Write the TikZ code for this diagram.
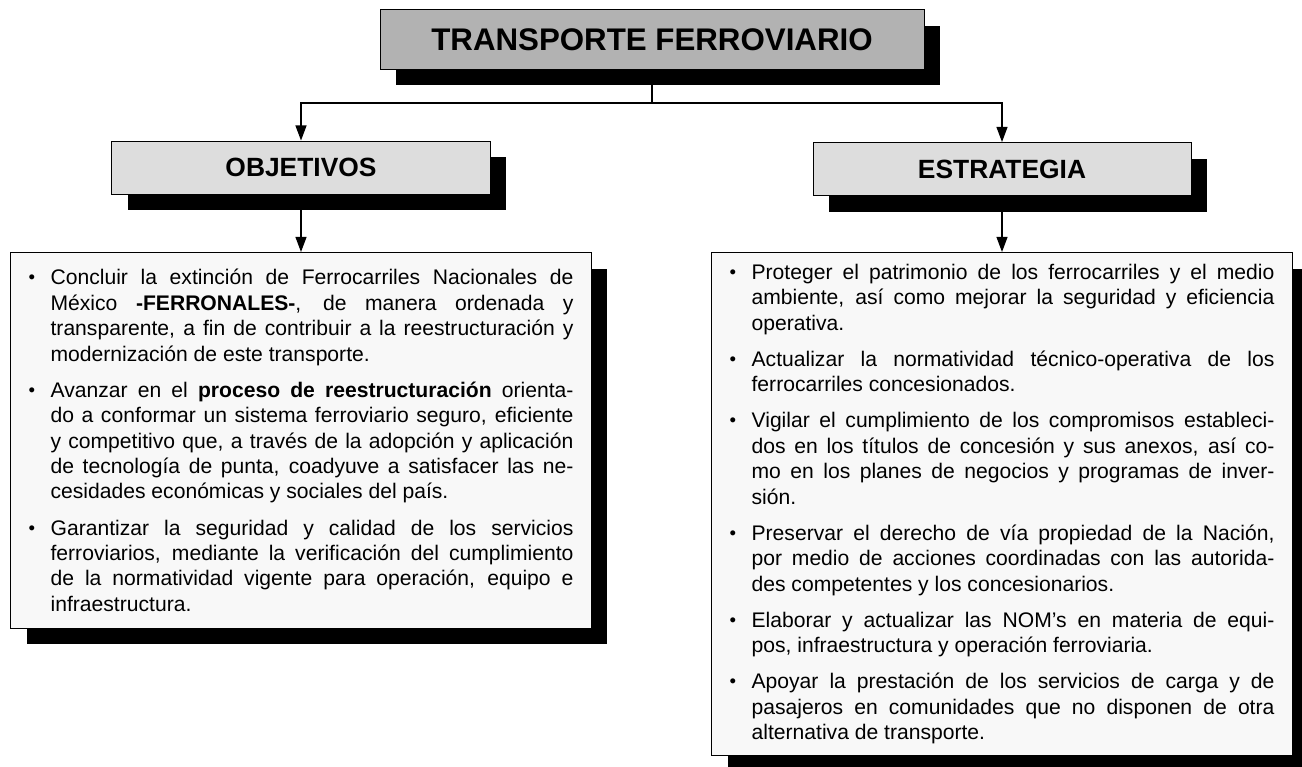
\documentclass[tikz,border=0pt]{standalone}
\usepackage{fontspec}
\setmainfont{Liberation Sans}
\usetikzlibrary{arrows.meta, shadows, positioning}

\definecolor{grisTitulo}{RGB}{178,178,178}
\definecolor{grisEncabezado}{RGB}{221,221,221}
\definecolor{grisCaja}{RGB}{248,248,248}

\newcommand{\marca}{\makebox[11.3pt][l]{\raisebox{0.08ex}{\fontsize{9.5}{9.5}\selectfont\textbullet}}}
\newcommand{\primero}{\hangindent=11.3pt\hangafter=1\marca}
\newcommand{\punto}{\par\noindent\hangindent=11.3pt\hangafter=1\marca}
\newcommand{\ajustes}{\parskip=5.5pt\tolerance=10000\hyphenpenalty=10000\exhyphenpenalty=10000}

\tikzset{
  sombra/.style={draw=black, line width=0.5pt,
    drop shadow={shadow xshift=8.2pt, shadow yshift=-8.2pt, fill=black, opacity=1}},
  titulo/.style={sombra, fill=grisTitulo, minimum width=278.3pt, minimum height=30.2pt,
    font=\fontsize{16}{19}\selectfont\bfseries},
  encabezado/.style={sombra, fill=grisEncabezado, minimum width=193.4pt, minimum height=27.1pt,
    font=\fontsize{13.5}{16}\selectfont\bfseries},
  lista/.style={sombra, fill=grisCaja, anchor=north, text width=278.8pt,
    inner xsep=9.2pt, inner ysep=5.9pt, align=justify, font=\fontsize{10.8}{13}\selectfont},
  flecha/.style={-{Triangle[length=7.7pt, width=5.6pt]}, line width=0.65pt},
}

\begin{document}
\begin{tikzpicture}[x=0.5116pt, y=-0.5116pt]
  \useasboundingbox (0,0) rectangle (1302,766);

  \node[titulo] (tf) at (652,39.5) {TRANSPORTE FERROVIARIO};
  \node[encabezado] (obj) at (301,167.5) {OBJETIVOS};
  \node[encabezado] (est) at (1002,169) {ESTRATEGIA};

  \node[lista, inner ysep=8.6pt] (lobj) at (301,252) {\ajustes
    \primero Concluir la extinción de Ferrocarriles Nacionales de\linebreak
    México \textbf{-FERRONALES-}, de manera ordenada y\linebreak
    transparente, a fin de contribuir a la reestructuración y\linebreak
    modernización de este transporte.
    \punto Avanzar en el \textbf{proceso de reestructuración} orienta-\linebreak
    do a conformar un sistema ferroviario seguro, eficiente\linebreak
    y competitivo que, a través de la adopción y aplicación\linebreak
    de tecnología de punta, coadyuve a satisfacer las ne-\linebreak
    cesidades económicas y sociales del país.
    \punto Garantizar la seguridad y calidad de los servicios\linebreak
    ferroviarios, mediante la verificación del cumplimiento\linebreak
    de la normatividad vigente para operación, equipo e\linebreak
    infraestructura.\par};

  \node[lista] (lest) at (1002,252) {\ajustes
    \primero Proteger el patrimonio de los ferrocarriles y el medio\linebreak
    ambiente, así como mejorar la seguridad y eficiencia\linebreak
    operativa.
    \punto Actualizar la normatividad técnico-operativa de los\linebreak
    ferrocarriles concesionados.
    \punto Vigilar el cumplimiento de los compromisos estableci-\linebreak
    dos en los títulos de concesión y sus anexos, así co-\linebreak
    mo en los planes de negocios y programas de inver-\linebreak
    sión.
    \punto Preservar el derecho de vía propiedad de la Nación,\linebreak
    por medio de acciones coordinadas con las autorida-\linebreak
    des competentes y los concesionarios.
    \punto Elaborar y actualizar las NOM’s en materia de equi-\linebreak
    pos, infraestructura y operación ferroviaria.
    \punto Apoyar la prestación de los servicios de carga y de\linebreak
    pasajeros en comunidades que no disponen de otra\linebreak
    alternativa de transporte.\par};

  \coordinate (j) at (652,103);
  \draw[line width=0.65pt] (tf) -- (j);
  \draw[flecha] (j) -| (obj);
  \draw[flecha] (j) -| (est);
  \draw[flecha] (obj) -- (lobj);
  \draw[flecha] (est) -- (lest);
\end{tikzpicture}
\end{document}
